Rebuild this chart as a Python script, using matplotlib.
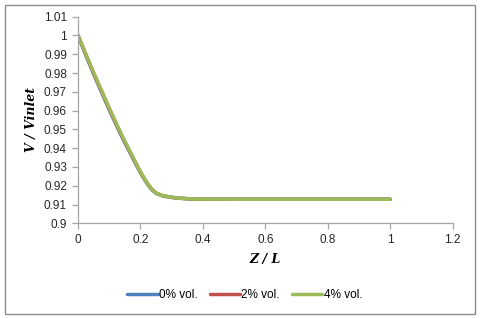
import matplotlib
matplotlib.use('Agg')
import matplotlib.pyplot as plt
from matplotlib.patches import Rectangle

# values
z = [0.0, 0.025, 0.05, 0.075, 0.10, 0.125, 0.145, 0.17, 0.19, 0.205, 0.22, 0.235,
     0.25, 0.27, 0.30, 0.33, 0.36, 0.40, 0.50, 0.60, 0.70, 0.80, 0.90, 1.0]
v_0 = [1.0, 0.9895, 0.9795, 0.970, 0.9605, 0.9515, 0.9445, 0.9365, 0.9300, 0.9255,
       0.9215, 0.9182, 0.9160, 0.9147, 0.9138, 0.9133, 0.9130, 0.9129, 0.9128, 0.9128,
       0.9128, 0.9128, 0.9128, 0.9128]
v_2 = [1.0, 0.9898, 0.9799, 0.9704, 0.9609, 0.9519, 0.9449, 0.9368, 0.9303, 0.9257,
       0.9217, 0.9183, 0.9161, 0.9147, 0.9138, 0.9133, 0.9130, 0.9129, 0.9128, 0.9128,
       0.9128, 0.9128, 0.9128, 0.9128]
v_4 = [1.0, 0.9901, 0.9803, 0.9709, 0.9614, 0.9524, 0.9453, 0.9372, 0.9306, 0.9259,
       0.9219, 0.9184, 0.9162, 0.9148, 0.9138, 0.9133, 0.9130, 0.9129, 0.9128, 0.9128,
       0.9128, 0.9128, 0.9128, 0.9128]
labels = ['0% vol.', '2% vol.', '4% vol.']
colors = ['#4F81BD', '#C0504D', '#9BBB59']

x_ticks = [0, 0.2, 0.4, 0.6, 0.8, 1, 1.2]
y_ticks = [0.9, 0.91, 0.92, 0.93, 0.94, 0.95, 0.96, 0.97, 0.98, 0.99, 1, 1.01]

fig = plt.figure(figsize=(4.8, 3.18), dpi=100)
fig.patches.append(Rectangle((5 / 480, 4 / 318), 470 / 480, 309 / 318,
                             transform=fig.transFigure, fill=False,
                             edgecolor='#8c8c8c', linewidth=1.0))

ax = fig.add_axes([0.1625, 0.2978, 0.7805, 0.6497])
for vals, lab, col in zip([v_0, v_2, v_4], labels, colors):
    ax.plot(z, vals, color=col, linewidth=2.5, label=lab, solid_capstyle='round')

ax.set_xlim(0, 1.2)
ax.set_ylim(0.9, 1.01)
ax.set_xticks(x_ticks)
ax.set_xticklabels(['0', '0.2', '0.4', '0.6', '0.8', '1', '1.2'])
ax.set_yticks(y_ticks)
ax.set_yticklabels(['0.9', '0.91', '0.92', '0.93', '0.94', '0.95', '0.96',
                    '0.97', '0.98', '0.99', '1', '1.01'])

for side in ['top', 'right']:
    ax.spines[side].set_visible(False)
for side in ['left', 'bottom']:
    ax.spines[side].set_color('#a6a6a6')
    ax.spines[side].set_linewidth(0.9)
ax.tick_params(direction='out', length=4, width=0.9, color='#a6a6a6',
               labelsize=8.5, labelcolor='#262626', pad=4)
for t in ax.get_xticklabels() + ax.get_yticklabels():
    t.set_family('Liberation Sans')

ax.set_xlabel('Z / L', family='DejaVu Serif', style='italic', weight='bold',
              fontsize=9, labelpad=5)
ax.set_ylabel('V / Vinlet', family='DejaVu Serif', style='italic', weight='bold',
              fontsize=9, labelpad=4)

fig.legend(loc='center', bbox_to_anchor=(0.51, 0.073), ncol=3, frameon=False,
           prop={'family': 'Liberation Sans', 'size': 8.5}, handlelength=2.6,
           handletextpad=0.1, columnspacing=1.0)

fig.savefig('out.png', dpi=100, facecolor='white')
